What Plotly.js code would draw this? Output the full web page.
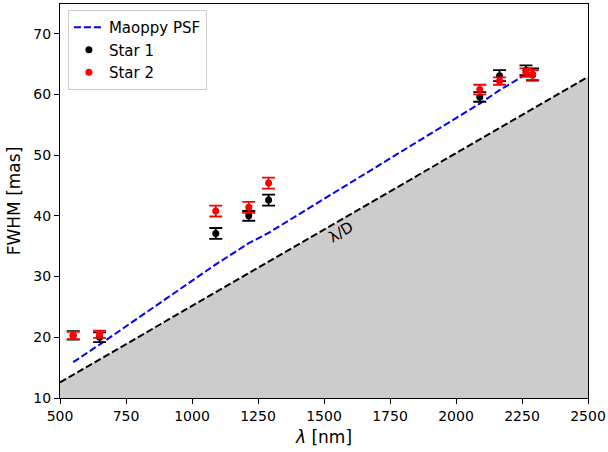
<!DOCTYPE html>
<html>
<head>
<meta charset="utf-8">
<script src="https://cdn.plot.ly/plotly-3.0.1.min.js"></script>
<style>html,body{margin:0;padding:0;background:#fff;}#chart{width:608px;height:452px;}</style>
</head>
<body>
<div id="chart"></div>
<script>
// Wavelengths [nm]
const wavelengths = [550, 650, 1090, 1215, 1290, 2090, 2165, 2265, 2290];
// Star 1 FWHM [mas] and errors
const star1 = [20.3, 20.0, 37.1, 40.0, 42.6, 59.6, 63.1, 64.0, 63.3];
const star1Err = [0.7, 0.8, 0.9, 0.8, 0.9, 0.8, 0.9, 0.8, 1.0];
// Star 2 FWHM [mas] and errors
const star2 = [20.3, 20.5, 40.8, 41.4, 45.4, 60.8, 62.2, 63.6, 63.2];
const star2Err = [0.6, 0.6, 0.9, 0.9, 0.9, 0.8, 0.6, 0.7, 0.8];
// Maoppy PSF model
const psfWave = [550, 650, 1090, 1215, 1290, 2090, 2165, 2265];
const psfFwhm = [15.9, 18.8, 32.0, 35.5, 37.2, 58.5, 60.7, 63.3];
// Diffraction limit lambda/D line
const diffWave = [500, 2500];
const diffFwhm = [12.58, 62.9];

const font = 'DejaVu Sans, sans-serif';

const traces = [
  {x: diffWave, y: diffFwhm, type: 'scatter', mode: 'lines', fill: 'tozeroy',
   fillcolor: '#cccccc', line: {color: 'black', width: 2, dash: '7px,3px'},
   showlegend: false, hoverinfo: 'skip'},
  {x: psfWave, y: psfFwhm, type: 'scatter', mode: 'lines', name: 'Maoppy PSF',
   line: {color: 'blue', width: 2, dash: '7px,3px'}},
  {x: wavelengths, y: star1, type: 'scatter', mode: 'markers', name: 'Star 1',
   marker: {color: 'black', size: 7},
   error_y: {type: 'data', array: star1Err, visible: true, color: 'black', thickness: 1.8, width: 6.5}},
  {x: wavelengths, y: star2, type: 'scatter', mode: 'markers', name: 'Star 2',
   marker: {color: 'red', size: 7},
   error_y: {type: 'data', array: star2Err, visible: true, color: 'red', thickness: 1.8, width: 6.5}}
];

const layout = {
  width: 608, height: 452,
  margin: {l: 60, r: 20, t: 4, b: 54},
  paper_bgcolor: 'white', plot_bgcolor: 'white',
  font: {family: font, size: 14, color: 'black'},
  xaxis: {
    range: [500, 2500], tickvals: [500, 750, 1000, 1250, 1500, 1750, 2000, 2250, 2500],
    ticks: 'outside', ticklen: 5, tickwidth: 1, tickcolor: 'black',
    tickfont: {family: font, size: 14},
    showline: true, linecolor: 'black', linewidth: 1, mirror: true,
    showgrid: false, zeroline: false,
    title: {text: '<i>λ</i> [nm]', font: {family: font, size: 17}, standoff: 8}
  },
  yaxis: {
    range: [10, 74.9], tickvals: [10, 20, 30, 40, 50, 60, 70],
    ticks: 'outside', ticklen: 5, tickwidth: 1, tickcolor: 'black',
    tickfont: {family: font, size: 14},
    showline: true, linecolor: 'black', linewidth: 1, mirror: true,
    showgrid: false, zeroline: false,
    title: {text: 'FWHM [mas]', font: {family: font, size: 17}, standoff: 8}
  },
  legend: {x: 0.015, y: 0.985, xanchor: 'left', yanchor: 'top',
    bgcolor: 'rgba(255,255,255,0.8)', bordercolor: '#cccccc', borderwidth: 1,
    font: {family: font, size: 15}, tracegroupgap: 0},
  annotations: [{x: 1564, y: 37.4, xref: 'x', yref: 'y', text: 'λ/D', showarrow: false,
    textangle: -31, font: {family: font, size: 15, color: 'black'}}]
};

Plotly.newPlot('chart', traces, layout, {displayModeBar: false});
</script>
</body>
</html>
